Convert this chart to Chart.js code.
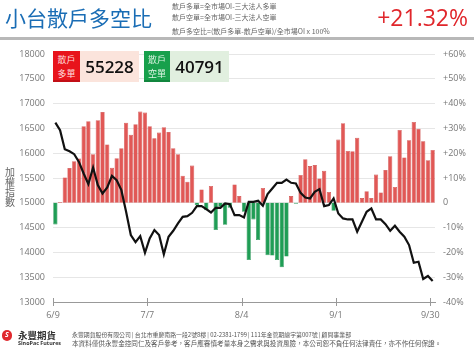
<!DOCTYPE html>
<html>
<head>
<meta charset="utf-8">
<script src="https://cdn.jsdelivr.net/npm/chart.js@4.4.0/dist/chart.umd.min.js"></script>
<style>
  html, body { margin: 0; padding: 0; background: #fff; }
  body { width: 474px; height: 353px; position: relative; overflow: hidden; font-family: "Noto Sans CJK TC", "Open Sans", sans-serif; }
  #c { position: absolute; left: 0; top: 0; z-index: 1; }
  .abs { position: absolute; white-space: nowrap; z-index: 2; }
  #title { left: 5px; top: 7px; font-size: 21px; line-height: 21px; color: #1a6db5; }
  .formula { left: 172px; font-size: 7px; line-height: 7px; color: #666; }
  #pct { right: 6px; top: 5.5px; font-family: "Open Sans", sans-serif; font-size: 23px; line-height: 23px; color: #e0262b; }
  #rule { left: 0; top: 37px; width: 474px; height: 3px; background: #b8b8b8; }
  .box { position: absolute; z-index: 2; top: 50.5px; height: 31.5px; box-sizing: border-box; }
  .tag { font-size: 9px; line-height: 13.5px; text-align: center; padding-top: 2.5px; }
  .num { font-family: "Open Sans", sans-serif; font-weight: 600; font-size: 17px; line-height: 31.5px; text-align: center; color: #111; }
  #ytitle { left: 5px; top: 167px; width: 10px; font-size: 10px; line-height: 10px; color: #666; white-space: normal; text-align: center; }
  #logo { left: 1.5px; top: 330px; width: 10.5px; height: 10.5px; border-radius: 50%; background: #e0292e; color: #fff; font: italic bold 7px "Open Sans", sans-serif; line-height: 10.5px; text-align: center; }
  #brand { left: 18px; top: 330.5px; font-size: 9.5px; line-height: 9.5px; font-weight: bold; color: #333; }
  #brand2 { left: 18px; top: 340px; font-family: "Open Sans", sans-serif; font-size: 5.4px; line-height: 6px; font-weight: bold; color: #333; }
  .foot { left: 72px; font-size: 6.6px; line-height: 6.6px; color: #555; }
</style>
</head>
<body>
<canvas id="c" width="474" height="353"></canvas>

<div class="abs" id="title">小台散戶多空比</div>
<div class="abs formula" style="top:2.5px">散戶多單=全市場OI-三大法人多單</div>
<div class="abs formula" style="top:14px">散戶空單=全市場OI-三大法人空單</div>
<div class="abs formula" style="top:28px">散戶多空比=(散戶多單-散戶空單)/全市場OI x 100%</div>
<div class="abs" id="pct">+21.32%</div>
<div class="abs" id="rule"></div>

<div class="box tag" style="left:53px;width:27px;background:#e8141c;color:#ffdede;border-bottom:2px solid #c20f16;">散戶<br>多單</div>
<div class="box num" id="longNum" style="left:80px;width:59px;background:#fbe4dc;"></div>
<div class="box tag" style="left:144px;width:26px;background:#17a04c;color:#ddf5e4;border-bottom:2px solid #11863e;">散戶<br>空單</div>
<div class="box num" id="shortNum" style="left:170px;width:59px;background:#e1efdf;"></div>

<div class="abs" id="ytitle">加<br>權<br>指<br>數</div>

<div class="abs" id="logo">S</div>
<div class="abs" id="brand">永豐期貨</div>
<div class="abs" id="brand2">SinoPac Futures</div>
<div class="abs foot" style="top:331.5px;font-size:5.9px">永豐期貨股份有限公司&thinsp;|&thinsp;台北市重慶南路一段2號8樓&thinsp;|&thinsp;02-2381-1799&thinsp;|&thinsp;111年金管期總字第007號&thinsp;|&thinsp;顧問事業部</div>
<div class="abs foot" style="top:340px">本資料僅供永豐金控同仁及客戶參考，客戶應審慎考量本身之需求與投資風險，本公司恕不負任何法律責任，亦不作任何保證。</div>

<script>
// ---- data ----
const retailLong = 55228;
const retailShort = 40791;
const tickLabels = ['6/9', '7/7', '8/4', '9/1', '9/30'];
const tickSlots  = [0, 20, 40, 60, 80];
// retail long/short ratio (%) per trading day
const ratio = [
  -8.7, 0.3, 10.2, 14.0, 16.8, 17.9, 30.9, 32.9, 19.6, 33.3,
  36.6, 23.5, 14.1, 18.0, 22.0, 32.3, 27.4, 31.7, 36.8, 36.4,
  30.9, 26.0, 28.3, 30.5, 28.5, 22.0, 19.6, 10.9, 8.5, 15.0,
  -0.9, 5.4, -3.0, 6.8, -11.0, -1.6, -8.9, -2.0, 7.4, 2.7,
  -3.6, -23.1, -6.7, -15.0, 6.0, -21.1, -21.3, -23.1, -26.0, -21.7,
  2.7, -0.4, 11.2, 17.6, 14.8, 15.2, 9.8, 12.9, 4.4, -3.2,
  25.5, 32.1, 20.9, 20.8, 26.2, 1.9, 4.7, 1.9, 11.4, 4.2,
  13.2, 18.8, 6.4, 29.4, 18.3, 25.2, 32.6, 29.9, 24.8, 17.2,
  21.32
];
// weighted index (TAIEX) close
const taiex = [
  16617, 16463, 16080, 16040, 15980, 15825, 15590, 15376, 15711, 15356,
  15188, 15309, 15543, 15456, 15255, 14819, 14349, 14208, 14329, 13993,
  14282, 14450, 14349, 13960, 14316, 14436, 14584, 14718, 14730, 14799,
  14933, 14933, 14872, 14805, 14899, 14899, 14987, 14973, 14752, 14752,
  14705, 15020, 15020, 15040, 14940, 15174, 15289, 15403, 15403, 15470,
  15403, 15390, 15200, 15107, 15087, 15221, 15275, 14933, 14953, 15087,
  14785, 14685, 14664, 14664, 14416, 14617, 14819, 14886, 14664, 14664,
  14570, 14436, 14537, 14416, 14316, 14148, 13792, 13812, 13463, 13524,
  13423
];

document.getElementById('longNum').textContent = retailLong;
document.getElementById('shortNum').textContent = retailShort;

const barPts = ratio.map((v, i) => ({ x: i + 0.5, y: v }));
const linePts = taiex.map((v, i) => ({ x: i + 0.5, y: v }));
const nSlots = ratio.length;

const tickFont = { family: 'Open Sans', size: 9 };
const crossTicks = {
  id: 'crossTicks',
  afterDraw(chart) {
    const xs = chart.scales.x, ctx = chart.ctx, b = chart.chartArea.bottom;
    ctx.save();
    ctx.strokeStyle = '#999';
    ctx.lineWidth = 1;
    tickSlots.forEach(v => {
      const px = Math.round(xs.getPixelForValue(v)) + 0.5;
      ctx.beginPath();
      ctx.moveTo(px, b - 4);
      ctx.lineTo(px, b + 4);
      ctx.stroke();
    });
    ctx.restore();
  }
};

new Chart(document.getElementById('c'), {
  type: 'bar',
  data: {
    datasets: [
      {
        type: 'line',
        data: linePts,
        yAxisID: 'y',
        borderColor: '#111',
        borderWidth: 2.2,
        pointRadius: 0,
        tension: 0,
        order: 0
      },
      {
        type: 'bar',
        data: barPts,
        yAxisID: 'yR',
        backgroundColor: c => (c.raw && c.raw.y >= 0) ? '#e15856' : '#1f9d55',
        borderColor: c => (c.raw && c.raw.y >= 0) ? '#cc4745' : '#188a49',
        borderWidth: 0.6,
        barPercentage: 0.9,
        categoryPercentage: 1,
        order: 1
      }
    ]
  },
  options: {
    responsive: false,
    devicePixelRatio: 1,
    animation: false,
    layout: { padding: { top: 54, left: 0, right: 0, bottom: 0 } },
    plugins: { legend: { display: false }, tooltip: { enabled: false } },
    scales: {
      x: {
        type: 'linear',
        min: 0,
        max: nSlots,
        offset: false,
        afterFit: s => { s.height = 51; },
        afterBuildTicks: s => { s.ticks = tickSlots.map(v => ({ value: v })); },
        ticks: {
          autoSkip: false,
          maxRotation: 0,
          padding: 8,
          color: '#777',
          font: tickFont,
          callback: (v) => tickLabels[tickSlots.indexOf(v)]
        },
        grid: { display: false, drawTicks: false },
        border: { display: true, color: '#999', width: 1 }
      },
      y: {
        position: 'left',
        min: 13000,
        max: 18000,
        afterFit: s => { s.width = 53; },
        ticks: { stepSize: 500, padding: 8, color: '#777', font: tickFont, callback: v => String(v) },
        grid: {
          drawTicks: false,
          color: c => (c.tick && c.tick.value === 13000) ? 'rgba(0,0,0,0)' : '#e6e6e6',
          lineWidth: 1
        },
        border: { display: false }
      },
      yR: {
        position: 'right',
        min: -40,
        max: 60,
        afterFit: s => { s.width = 39; },
        ticks: {
          stepSize: 10,
          padding: 8,
          color: '#777',
          font: tickFont,
          callback: v => v > 0 ? '+' + v + '%' : (v === 0 ? '0' : v + '%')
        },
        grid: { display: false, drawTicks: false },
        border: { display: false }
      }
    }
  },
  plugins: [crossTicks]
});
</script>
</body>
</html>
